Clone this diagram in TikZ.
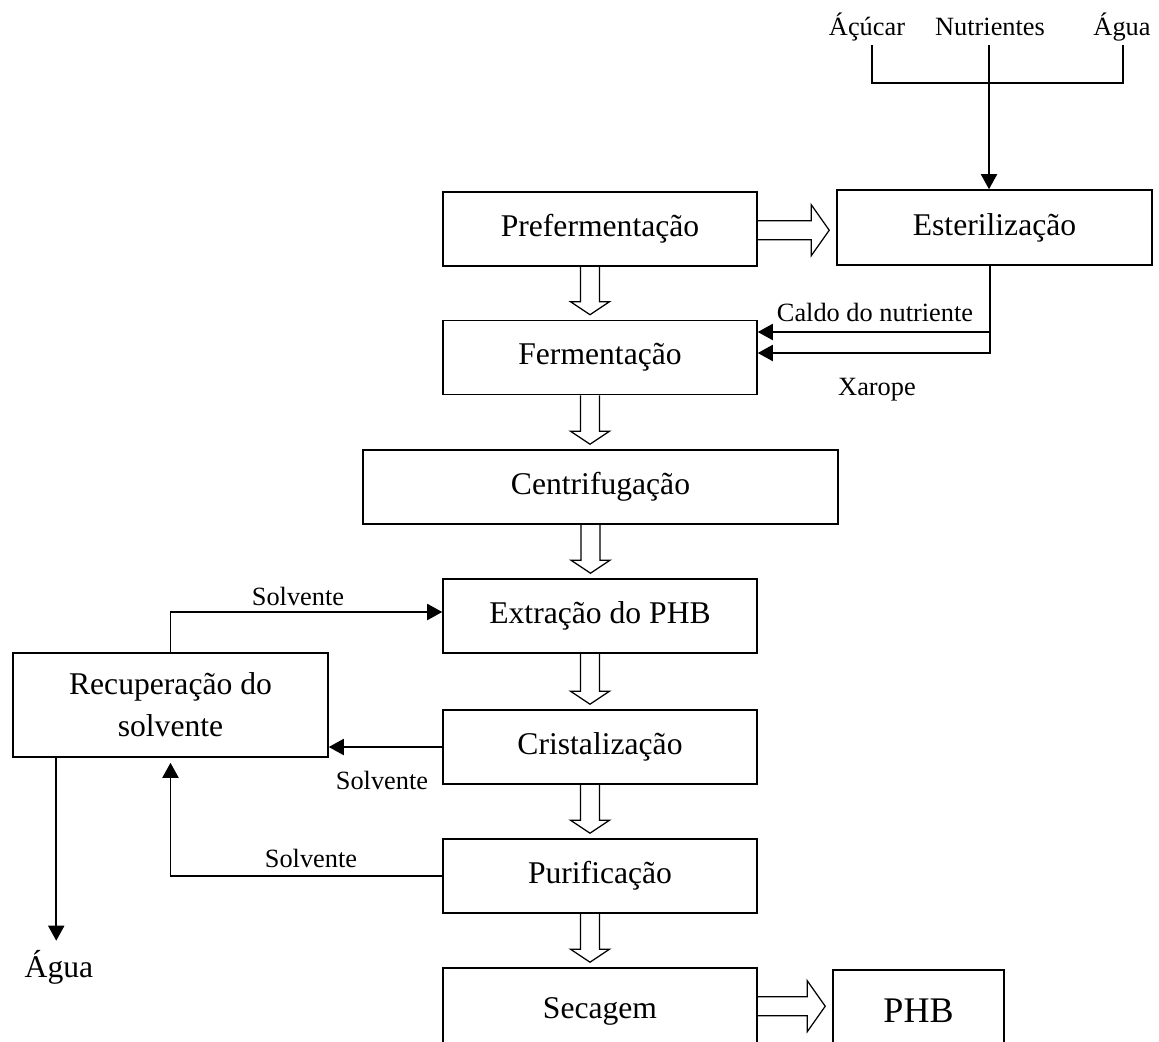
\documentclass[tikz,border=0pt]{standalone}
\usepackage{fontspec}
\setmainfont{Liberation Serif}
\usetikzlibrary{calc,arrows.meta}
\tikzset{
	etapa/.style={draw, line width=0.9pt, minimum width=6.28cm, minimum height=1.48cm, inner sep=0pt, font=\fontsize{18}{22}\selectfont},
	rotulo/.style={font=\fontsize{15}{18}\selectfont, inner sep=1pt},
	fluxo/.style={line width=1.1pt, -{Triangle[length=0.3cm,width=0.32cm]}},
	linha/.style={line width=1.1pt},
	oco/.style={line width=0.7pt, line join=miter},
}
\def\ocobaixo(#1)(#2){%
	\coordinate (hs) at ($(#1.south)+(-10,0)$);
	\coordinate (he) at ($(hs |- #2.north)+(0,-5)$);
	\draw[oco] ($(hs)+(-9.5,0)$) -- ($(he)+(-9.5,-13)$) -- ($(he)+(-19.5,-13)$) -- (he)
		-- ($(he)+(19.5,-13)$) -- ($(he)+(9.5,-13)$) -- ($(hs)+(9.5,0)$);}
\def\ocodireita(#1)(#2){%
	\coordinate (hs) at ($(#1.north east)+(0,39)$);
	\coordinate (he) at ($(#2.west |- hs)+(-7,0)$);
	\draw[oco] ($(hs)+(0,-9.5)$) -- ($(he)+(-18,-9.5)$) -- ($(he)+(-18,-25.5)$) -- (he)
		-- ($(he)+(-18,25.5)$) -- ($(he)+(-18,9.5)$) -- ($(hs)+(0,9.5)$);}

\begin{document}
\begin{tikzpicture}[x=0.02cm, y=-0.02cm]
			%%%%% START %%%%%
			\useasboundingbox (0,0) rectangle (1159,1041);
			\clip (0,0) rectangle (1159,1041);
			
			\node[etapa] (pref) at (600,229) {Prefermentação};
			\node[etapa, minimum width=6.3cm, minimum height=1.5cm] (ester) at (994.5,227.5) {Esterilização};
			\node[etapa] (ferm) at (600,357.5) {Fermentação};
			\node[etapa, minimum width=9.5cm] (centr) at (600.5,487) {Centrifugação};
			\node[etapa] (extr) at (600,616) {Extração do PHB};
			\node[etapa] (crist) at (600,747) {Cristalização};
			\node[etapa] (purif) at (600,876) {Purificação};
			\node[etapa, minimum height=1.72cm] (sec) at (600,1011) {Secagem};
			\node[etapa, minimum width=3.42cm, minimum height=1.64cm, font=\fontsize{20.5}{24}\selectfont] (phb) at (918.5,1011) {PHB};
			\node[etapa, minimum width=6.3cm, minimum height=2.08cm, align=center, font=\fontsize{18}{23.8}\selectfont] (recup) at (170.5,705) {Recuperação do\\solvente};
			
			% entradas
			\node[rotulo, anchor=base] (acucar) at (867,35) {Áçúcar};
			\node[rotulo, anchor=base] (nutri) at (990,35) {Nutrientes};
			\node[rotulo, anchor=base] (aguatop) at (1122,35) {Água};
			\coordinate (mistura) at (989,83);
			\coordinate (nutriout) at ($(nutri.base)+(-1,10)$);
			\draw[linha] ($(acucar.base)+(5,10)$) |- (mistura) -| ($(aguatop.base)+(1,10)$);
			\draw[fluxo] (nutriout) -- (nutriout |- ester.north);
			
			% caldo e xarope
			\coordinate (estout) at ($(ester.south)+(-4.5,0)$);
			\coordinate (fxarope) at ($(ferm.east)+(0,-4.5)$);
			\coordinate (fcaldo) at ($(ferm.east)+(0,-25.5)$);
			\draw[fluxo] (estout) |- (fxarope);
			\draw[fluxo] (estout |- fcaldo) -- (fcaldo);
			\node[rotulo] (lcaldo) at (875,312) {Caldo do nutriente};
			\node[rotulo] (lxarope) at (877,390) {Xarope};
			
			% solvente
			\coordinate (extrin) at ($(extr.west)+(0,-4)$);
			\draw[fluxo] (recup.north) |- (extrin);
			\node[rotulo] (lsolvA) at (298,596) {Solvente};
			\draw[fluxo] (crist.west) -- (crist.west -| recup.east);
			\node[rotulo] (lsolvB) at (382,780) {Solvente};
			\draw[fluxo, shorten >=0.1cm] (purif.west) -| (recup.south);
			\node[rotulo] (lsolvC) at (311,858) {Solvente};
			
			% agua
			\node[font=\fontsize{18}{22}\selectfont, anchor=base, inner sep=0.5em] (agua) at (59,977) {Água};
			\coordinate (recupout) at ($(recup.south west)+(44,0)$);
			\draw[fluxo] (recupout) -- (recupout |- agua.north);
			
			% setas ocas
			\ocodireita(pref)(ester)
			\ocobaixo(pref)(ferm)
			\ocobaixo(ferm)(centr)
			\ocobaixo(centr)(extr)
			\ocobaixo(extr)(crist)
			\ocobaixo(crist)(purif)
			\ocobaixo(purif)(sec)
			\ocodireita(sec)(phb)
			
			%%%%% END %%%%%
\end{tikzpicture}
\end{document}
